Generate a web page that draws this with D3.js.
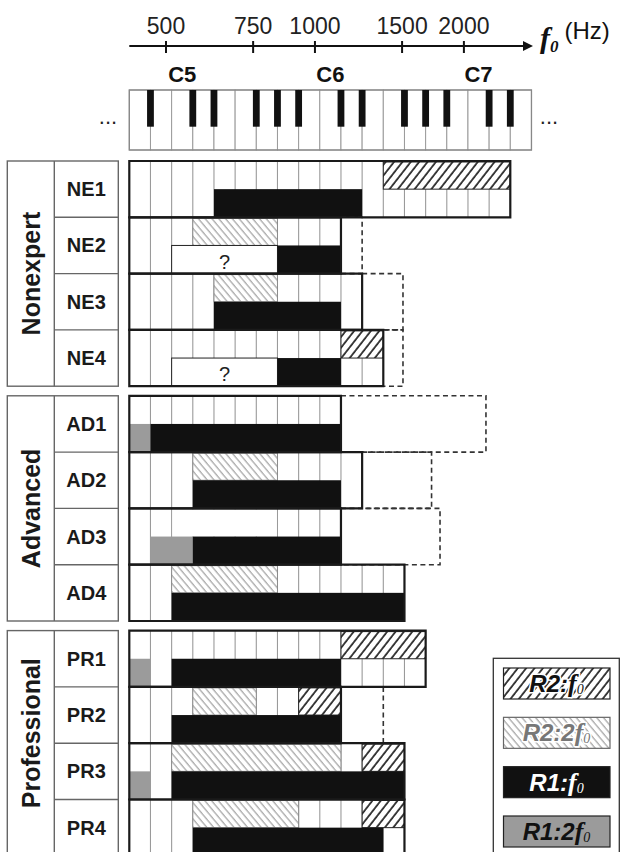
<!DOCTYPE html>
<html>
<head>
<meta charset="utf-8">
<script src="https://cdn.jsdelivr.net/npm/d3@7"></script>
<style>
  body { margin: 0; background: #fff; }
  svg { display: block; }
</style>
</head>
<body>
<div id="viz"></div>
<script>
// values

var freqTicks = [500, 750, 1000, 1500, 2000];
var octaveLabels = ["C5", "C6", "C7"];
var octaveKeys = [2, 9, 16];                 // white key holding each C
var whiteKeyCount = 19;
var blackKeys = [1, 3, 4, 6, 7, 8, 10, 11, 13, 14, 15, 17, 18];   // key borders with a black key

var groups = ["Nonexpert", "Advanced", "Professional"];
var subjects = ["NE1", "NE2", "NE3", "NE4", "AD1", "AD2", "AD3", "AD4", "PR1", "PR2", "PR3", "PR4"];
var subjectGroup = [0, 0, 0, 0, 1, 1, 1, 1, 2, 2, 2, 2];
// last key reached (solid) and dashed extension, in key units
var extent   = [18, 10, 11, 12, 10, 11, 10, 13, 14, 10, 13, 13];
var dashedTo = [null, 11, 12.93, 12.93, 16.85, 14.28, 14.68, null, null, 12, null, null];

// [subject, kind, from key, to key]
var bars = [
  [0, "R2f0", 12, 18], [0, "R1f0", 4, 11],
  [1, "R22f0", 3, 7], [1, "unknown", 2, 7], [1, "R1f0", 7, 10],
  [2, "R22f0", 4, 7], [2, "R1f0", 4, 10],
  [3, "R2f0", 10, 12], [3, "unknown", 2, 7], [3, "R1f0", 7, 10],
  [4, "R12f0", 0, 1], [4, "R1f0", 1, 10],
  [5, "R22f0", 3, 7], [5, "R1f0", 3, 10],
  [6, "blank", 2, 7], [6, "R12f0", 1, 3], [6, "R1f0", 3, 10],
  [7, "R22f0", 2, 7], [7, "R1f0", 2, 13],
  [8, "R2f0", 10, 14], [8, "R12f0", 0, 1], [8, "R1f0", 2, 10],
  [9, "R22f0", 3, 6], [9, "R2f0", 8, 10], [9, "R1f0", 2, 10],
  [10, "R22f0", 2, 10], [10, "R2f0", 11, 13], [10, "R12f0", 0, 1], [10, "R1f0", 2, 13],
  [11, "R22f0", 3, 8], [11, "R2f0", 11, 13], [11, "R1f0", 3, 12]
];

var legendKinds = ["R2f0", "R22f0", "R1f0", "R12f0"];
var legendLabels = [["R2:", "f", "0"], ["R2:2", "f", "0"], ["R1:", "f", "0"], ["R1:2", "f", "0"]];

var upperKinds = ["R2f0", "R22f0", "blank"];
var sans = "'Liberation Sans', Arial, sans-serif",
    serif = "'Liberation Serif', 'Times New Roman', serif";

var screenWidth = 623,
    screenHeight = 852;

var svg = d3.select("div#viz")
            .append("svg")
            .attr("width", screenWidth)
            .attr("height", screenHeight);

// patterns for the two hatches (white ground so grid lines stay hidden)
var defs = svg.append("defs");
var pd = defs.append("pattern")
    .attr("id", "hatchDark")
    .attr("patternUnits", "userSpaceOnUse")
    .attr("width", 6.6).attr("height", 10)
    .attr("patternTransform", "rotate(38)");
pd.append("rect").attr("width", 6.6).attr("height", 10).attr("fill", "#fff");
pd.append("line")
  .attr("x1", 1).attr("y1", 0).attr("x2", 1).attr("y2", 10)
  .attr("stroke", "#222").attr("stroke-width", 1.7);
var pl = defs.append("pattern")
    .attr("id", "hatchLight")
    .attr("patternUnits", "userSpaceOnUse")
    .attr("width", 5.2).attr("height", 10)
    .attr("patternTransform", "rotate(-40)");
pl.append("rect").attr("width", 5.2).attr("height", 10).attr("fill", "#fff");
pl.append("line")
  .attr("x1", 1).attr("y1", 0).attr("x2", 1).attr("y2", 10)
  .attr("stroke", "#8f8f8f").attr("stroke-width", 1);

var fills = {"R2f0": "url(#hatchDark)", "R22f0": "url(#hatchLight)",
             "R1f0": "#111", "R12f0": "#9b9b9b", "unknown": "#fff", "blank": "#fff"};
var strokes = {"R2f0": "#222", "R22f0": "#8a8a8a", "R1f0": "none",
               "R12f0": "none", "unknown": "#222", "blank": "none"};

// scales
var x = d3.scaleLinear().domain([0, 18]).range([129.3, 510.3]);
var fx = d3.scaleLog().domain([500, 2000]).range([165.5, 463.4]);
var rowH = 56.3;
var yRow = d3.scaleLinear().domain([0, 12]).range([161, 161 + 12 * rowH]);
var yGap = d3.scaleLinear().domain([0, 1]).range([0, 9.6]);
var yTop = function(i) { return yRow(i) + yGap(subjectGroup[i]); };

// ---- frequency axis
var axisY = 46;
var fAxis = d3.axisTop(fx)
              .tickValues(freqTicks)
              .tickFormat(d3.format("d"))
              .tickSizeInner(-7)
              .tickSizeOuter(0)
              .tickPadding(12);
var ag = svg.append("g")
            .attr("transform", "translate(0," + axisY + ")")
            .call(fAxis);
ag.select(".domain").remove();
ag.selectAll(".tick line").attr("y1", -5).attr("stroke", "#111").attr("stroke-width", 2);
ag.selectAll(".tick text")
  .attr("font-family", sans).attr("font-size", 23).attr("fill", "#222");

svg.append("line")
   .attr("x1", x(0)).attr("x2", 525)
   .attr("y1", axisY).attr("y2", axisY)
   .attr("stroke", "#111").attr("stroke-width", 2);
svg.append("path")
   .attr("d", "M523," + (axisY - 5) + "L533," + axisY + "L523," + (axisY + 5) + "Z")
   .attr("fill", "#111");

var flab = svg.append("text")
              .attr("x", 540).attr("y", axisY + 2)
              .attr("fill", "#111");
flab.append("tspan").attr("font-family", serif).attr("font-style", "italic")
    .attr("font-weight", "bold").attr("font-size", 30).text("f");
flab.append("tspan").attr("font-family", serif).attr("font-style", "italic")
    .attr("font-weight", "bold").attr("font-size", 17).attr("dy", 4).text("0");
flab.append("tspan").attr("font-family", sans).attr("font-size", 24)
    .attr("dx", 6).attr("dy", -13).text("(Hz)");

// ---- keyboard
var kbTop = 90, kbBottom = 150, blackBottom = 126.7;
var kb = svg.append("g");
kb.selectAll("rect.white")
  .data(d3.range(whiteKeyCount))
  .enter().append("rect")
  .attr("class", "white")
  .attr("x", function(d) { return x(d); })
  .attr("y", kbTop)
  .attr("width", function(d) { return x(d + 1) - x(d); })
  .attr("height", kbBottom - kbTop)
  .attr("fill", "#fff").attr("stroke", "#9a9a9a").attr("stroke-width", 1);
kb.append("rect")
  .attr("x", x(0)).attr("y", kbTop)
  .attr("width", x(whiteKeyCount) - x(0)).attr("height", kbBottom - kbTop)
  .attr("fill", "none").attr("stroke", "#888").attr("stroke-width", 1.3);
kb.selectAll("rect.black")
  .data(blackKeys)
  .enter().append("rect")
  .attr("class", "black")
  .attr("x", function(d) { return x(d) - 3.4; })
  .attr("y", kbTop)
  .attr("width", 6.8)
  .attr("height", blackBottom - kbTop)
  .attr("fill", "#111");
kb.selectAll("text.oct")
  .data(octaveLabels)
  .enter().append("text")
  .attr("class", "oct")
  .attr("x", function(d, i) { return x(octaveKeys[i] + 0.5); })
  .attr("y", 82)
  .attr("text-anchor", "middle")
  .attr("font-family", sans).attr("font-weight", "bold").attr("font-size", 22)
  .attr("fill", "#111")
  .text(function(d) { return d; });
[108, 549].forEach(function(cx) {
  svg.append("text")
     .attr("x", cx).attr("y", 124)
     .attr("text-anchor", "middle")
     .attr("font-family", sans).attr("font-size", 22).attr("fill", "#222")
     .text("...");
});

// ---- rows
var rowsG = svg.append("g");
subjects.forEach(function(name, i) {
  var top = yTop(i), mid = top + rowH / 2, bot = top + rowH;
  var g = rowsG.append("g");
  g.append("rect")
   .attr("x", x(0)).attr("y", top)
   .attr("width", x(extent[i]) - x(0)).attr("height", rowH)
   .attr("fill", "#fff");
  g.selectAll("line.grid")
   .data(d3.range(1, extent[i]))
   .enter().append("line")
   .attr("x1", function(d) { return x(d); })
   .attr("x2", function(d) { return x(d); })
   .attr("y1", top).attr("y2", bot)
   .attr("stroke", "#9a9a9a").attr("stroke-width", 1.1);

  var mine = bars.filter(function(b) { return b[0] === i; });
  g.selectAll("rect.bar")
   .data(mine)
   .enter().append("rect")
   .attr("class", "bar")
   .attr("x", function(b) { return b[1] === "blank" ? x(b[2]) + 0.8 : x(b[2]); })
   .attr("width", function(b) {
     return b[1] === "blank" ? x(b[3]) - x(b[2]) - 1.6 : x(b[3]) - x(b[2]);
   })
   .attr("y", function(b) { return upperKinds.indexOf(b[1]) >= 0 ? top + 1 : mid; })
   .attr("height", function(b) { return upperKinds.indexOf(b[1]) >= 0 ? rowH / 2 - 1 : rowH / 2; })
   .attr("fill", function(b) { return fills[b[1]]; })
   .attr("stroke", function(b) { return strokes[b[1]]; })
   .attr("stroke-width", 1);

  g.selectAll("text.q")
   .data(mine.filter(function(b) { return b[1] === "unknown"; }))
   .enter().append("text")
   .attr("class", "q")
   .attr("x", function(b) { return x((b[2] + b[3]) / 2); })
   .attr("y", bot - 5)
   .attr("text-anchor", "middle")
   .attr("font-family", sans).attr("font-size", 20).attr("fill", "#222")
   .text("?");
});

// dashed extensions
subjects.forEach(function(name, i) {
  if (dashedTo[i] === null) return;
  var top = yTop(i), bot = top + rowH;
  rowsG.append("path")
       .attr("d", "M" + x(extent[i]) + "," + top + "H" + x(dashedTo[i]) +
                  "V" + bot + "H" + x(extent[i]))
       .attr("fill", "none")
       .attr("stroke", "#333").attr("stroke-width", 1.6)
       .attr("stroke-dasharray", "5,3.5");
});

// solid outlines of each row
subjects.forEach(function(name, i) {
  var top = yTop(i), bot = top + rowH;
  rowsG.append("path")
       .attr("d", "M" + x(0) + "," + top + "H" + x(extent[i]) +
                  "V" + bot + "H" + x(0) + "Z")
       .attr("fill", "none")
       .attr("stroke", "#1a1a1a").attr("stroke-width", 2.2);
});

// ---- group / subject labels
var labelLeft = 7.3, labelMid = 54.3, labelRight = 118.3;
var lab = svg.append("g");
groups.forEach(function(gname, gi) {
  var members = d3.range(subjects.length).filter(function(i) { return subjectGroup[i] === gi; });
  var top = yTop(members[0]),
      bot = yTop(members[members.length - 1]) + rowH;
  lab.append("rect")
     .attr("x", labelLeft).attr("y", top)
     .attr("width", labelRight - labelLeft).attr("height", bot - top)
     .attr("fill", "none").attr("stroke", "#666").attr("stroke-width", 1.4);
  lab.append("line")
     .attr("x1", labelMid).attr("x2", labelMid).attr("y1", top).attr("y2", bot)
     .attr("stroke", "#666").attr("stroke-width", 1.4);
  members.slice(1).forEach(function(i) {
    lab.append("line")
       .attr("x1", labelMid).attr("x2", labelRight)
       .attr("y1", yTop(i)).attr("y2", yTop(i))
       .attr("stroke", "#666").attr("stroke-width", 1.4);
  });
  lab.append("text")
     .attr("transform", "translate(" + ((labelLeft + labelMid) / 2 + 9) + "," +
                        ((top + bot) / 2 - (gi === 2 ? 10 : 0)) + ") rotate(-90)")
     .attr("text-anchor", "middle")
     .attr("font-family", sans).attr("font-weight", "bold").attr("font-size", 25)
     .attr("fill", "#1a1a1a")
     .text(gname);
  members.forEach(function(i) {
    lab.append("text")
       .attr("x", (labelMid + labelRight) / 2)
       .attr("y", yTop(i) + rowH / 2 + 7)
       .attr("text-anchor", "middle")
       .attr("font-family", sans).attr("font-weight", "bold").attr("font-size", 20)
       .attr("fill", "#1a1a1a")
       .text(subjects[i]);
  });
});

// ---- legend
var legendY = d3.scaleLinear().domain([0, 3]).range([668, 816]);
var lg = svg.append("g");
lg.append("rect")
  .attr("x", 493.3).attr("y", 658.3).attr("width", 126).attr("height", 210)
  .attr("fill", "#fff").attr("stroke", "#333").attr("stroke-width", 1.3);
var textFill = ["#111", "#777", "#fff", "#111"];
legendKinds.forEach(function(k, i) {
  var y0 = legendY(i);
  lg.append("rect")
    .attr("x", 503.5).attr("y", y0).attr("width", 106.5).attr("height", 31)
    .attr("fill", fills[k]).attr("stroke", i === 1 ? "#666" : "#222").attr("stroke-width", 1.2);
  var t = lg.append("text")
            .attr("x", 556.5).attr("y", y0 + 24)
            .attr("text-anchor", "middle")
            .attr("fill", textFill[i]);
  if (i < 2) {
    t.attr("stroke", "#fff").attr("stroke-width", 3)
     .attr("paint-order", "stroke").attr("stroke-linejoin", "round");
  }
  t.append("tspan").attr("font-family", sans).attr("font-style", "italic")
   .attr("font-weight", "bold").attr("font-size", 24).text(legendLabels[i][0]);
  t.append("tspan").attr("font-family", serif).attr("font-style", "italic")
   .attr("font-weight", "bold").attr("font-size", 26).text(legendLabels[i][1]);
  t.append("tspan").attr("font-family", serif).attr("font-style", "italic")
   .attr("font-size", 14).attr("dy", 2).text(legendLabels[i][2]);
});
</script>
</body>
</html>
